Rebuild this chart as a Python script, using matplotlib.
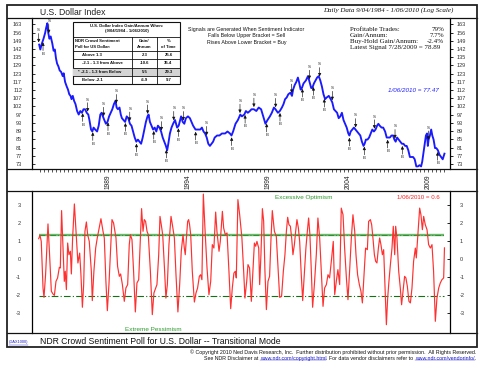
import numpy as np
import matplotlib
matplotlib.use('Agg')
import matplotlib.pyplot as plt
from matplotlib.lines import Line2D
from matplotlib.patches import Rectangle
from matplotlib.ticker import FixedLocator, FixedFormatter, NullLocator

# ---------------- data ----------------
usd_points = [
    (1984.68, 145), (1984.75, 141), (1984.85, 146), (1984.95, 150), (1985.05, 155),
    (1985.12, 160), (1985.19, 164), (1985.25, 155), (1985.32, 150), (1985.40, 152),
    (1985.50, 146), (1985.58, 140), (1985.66, 141), (1985.73, 134), (1985.80, 130),
    (1985.88, 128), (1985.96, 125), (1986.05, 124), (1986.15, 121), (1986.21, 123),
    (1986.30, 117), (1986.40, 114), (1986.48, 112), (1986.56, 109), (1986.64, 108),
    (1986.70, 106), (1986.78, 108), (1986.86, 105), (1986.95, 103), (1987.05, 99),
    (1987.15, 97), (1987.25, 99), (1987.35, 98), (1987.45, 100), (1987.55, 100),
    (1987.65, 98), (1987.75, 97), (1987.82, 94), (1987.92, 89), (1988.00, 88),
    (1988.08, 90), (1988.18, 89), (1988.30, 88), (1988.40, 91), (1988.50, 97),
    (1988.58, 98), (1988.66, 96), (1988.75, 94), (1988.85, 92), (1988.95, 93),
    (1989.05, 96), (1989.15, 98), (1989.25, 100), (1989.35, 103), (1989.45, 105),
    (1989.52, 101), (1989.60, 100), (1989.70, 101), (1989.78, 97), (1989.85, 95),
    (1989.95, 94), (1990.05, 93), (1990.15, 96), (1990.25, 95), (1990.35, 92),
    (1990.45, 91), (1990.55, 88), (1990.65, 85), (1990.75, 83), (1990.85, 84),
    (1990.95, 83), (1991.05, 82), (1991.15, 85), (1991.25, 89), (1991.35, 93),
    (1991.45, 96), (1991.52, 97), (1991.60, 93), (1991.70, 91), (1991.80, 89),
    (1991.90, 90), (1992.00, 88), (1992.10, 91), (1992.20, 90), (1992.30, 88),
    (1992.40, 85), (1992.50, 83), (1992.60, 81), (1992.68, 79), (1992.75, 82),
    (1992.85, 87), (1992.95, 90), (1993.05, 92), (1993.17, 94), (1993.30, 90),
    (1993.40, 91), (1993.55, 96), (1993.65, 93), (1993.75, 92), (1993.85, 95),
    (1993.98, 96), (1994.10, 95), (1994.20, 93), (1994.30, 91), (1994.45, 89),
    (1994.60, 89), (1994.75, 89), (1994.85, 90), (1994.95, 88), (1995.05, 87),
    (1995.15, 85), (1995.25, 82), (1995.35, 81), (1995.45, 82), (1995.55, 83),
    (1995.65, 85), (1995.80, 86), (1995.95, 86), (1996.10, 87), (1996.30, 87),
    (1996.45, 88), (1996.60, 87), (1996.70, 86), (1996.80, 88), (1996.95, 92),
    (1997.10, 94), (1997.25, 97), (1997.35, 96), (1997.50, 97), (1997.60, 99),
    (1997.72, 98), (1997.85, 99), (1997.95, 100), (1998.10, 100), (1998.25, 99),
    (1998.40, 101), (1998.55, 100), (1998.65, 97), (1998.75, 94), (1998.82, 92),
    (1998.95, 94), (1999.10, 96), (1999.22, 98), (1999.35, 101), (1999.45, 100),
    (1999.60, 98), (1999.72, 99), (1999.85, 101), (1999.95, 103), (2000.05, 106),
    (2000.15, 107), (2000.25, 109), (2000.38, 110), (2000.48, 108), (2000.55, 112),
    (2000.65, 115), (2000.75, 117), (2000.85, 120), (2000.92, 117), (2001.02, 112),
    (2001.10, 113), (2001.20, 116), (2001.35, 118), (2001.48, 121), (2001.58, 117),
    (2001.68, 113), (2001.75, 113), (2001.85, 116), (2001.95, 118), (2002.05, 120),
    (2002.15, 121), (2002.25, 118), (2002.35, 114), (2002.45, 109), (2002.55, 106),
    (2002.65, 107), (2002.78, 108), (2002.90, 106), (2003.00, 104), (2003.10, 100),
    (2003.20, 99), (2003.30, 98), (2003.40, 95), (2003.50, 96), (2003.60, 98),
    (2003.70, 94), (2003.80, 92), (2003.90, 90), (2004.00, 87), (2004.07, 86),
    (2004.15, 88), (2004.25, 89), (2004.35, 90), (2004.45, 89), (2004.55, 88),
    (2004.65, 87), (2004.75, 86), (2004.85, 83), (2004.95, 81), (2005.02, 82),
    (2005.10, 84), (2005.20, 84), (2005.30, 85), (2005.40, 87), (2005.50, 89),
    (2005.60, 88), (2005.70, 89), (2005.80, 91), (2005.88, 92), (2005.96, 91),
    (2006.08, 90), (2006.18, 90), (2006.30, 88), (2006.40, 85), (2006.50, 85),
    (2006.60, 85), (2006.70, 86), (2006.80, 86), (2006.88, 84), (2006.96, 83),
    (2007.05, 85), (2007.15, 84), (2007.25, 83), (2007.35, 82), (2007.45, 82),
    (2007.55, 81), (2007.65, 81), (2007.75, 79), (2007.85, 76), (2007.95, 76),
    (2008.05, 76), (2008.15, 75), (2008.25, 72), (2008.35, 72), (2008.45, 72.5),
    (2008.55, 72), (2008.62, 74), (2008.70, 78), (2008.78, 82), (2008.85, 86),
    (2008.92, 87), (2008.97, 81), (2009.02, 84), (2009.10, 86), (2009.18, 89),
    (2009.25, 86), (2009.33, 84), (2009.42, 80), (2009.50, 80), (2009.60, 79),
    (2009.70, 77), (2009.80, 76), (2009.90, 75), (2010.01, 77.47),
]

sentiment_points = [
    (1984.65, 1.11), (1984.73, 1.30), (1984.81, 0.96), (1984.92, -1.63), (1984.98, -2.15),
    (1985.08, -0.89), (1985.23, 1.93), (1985.33, 0.22), (1985.44, -1.81), (1985.54, -1.96),
    (1985.63, -2.04), (1985.73, -1.26), (1985.83, -1.07), (1985.94, -0.48), (1986.00, -0.52),
    (1986.08, 2.67), (1986.17, 0.59), (1986.25, -1.26), (1986.31, -0.70), (1986.38, -1.72),
    (1986.46, 0.87), (1986.54, 0.22), (1986.63, 0.41), (1986.69, -0.85), (1986.77, 1.15),
    (1986.88, 3.04), (1986.98, 1.52), (1987.10, -0.24), (1987.21, 0.31), (1987.29, -0.89),
    (1987.38, -2.70), (1987.46, -1.44), (1987.54, 1.52), (1987.63, 2.04), (1987.71, 1.33),
    (1987.81, 0.96), (1987.94, -0.70), (1988.00, -2.33), (1988.10, -0.70), (1988.21, 0.59),
    (1988.31, 1.15), (1988.44, 1.74), (1988.54, 2.22), (1988.67, 1.52), (1988.75, 1.15),
    (1988.85, -1.26), (1988.94, -2.89), (1989.04, -1.44), (1989.15, 0.59), (1989.23, 2.17),
    (1989.33, 1.98), (1989.48, 1.15), (1989.58, -0.43), (1989.69, -0.98), (1989.77, -0.85),
    (1989.88, -1.44), (1990.00, -2.37), (1990.10, -1.63), (1990.21, -1.44), (1990.31, 0.78),
    (1990.38, 1.33), (1990.48, 1.06), (1990.58, -0.70), (1990.69, -2.96), (1990.79, -1.35),
    (1990.90, -1.17), (1991.00, 0.96), (1991.08, 2.78), (1991.17, 1.52), (1991.25, 2.17),
    (1991.33, 2.07), (1991.42, 1.52), (1991.50, 1.33), (1991.63, -0.70), (1991.75, -3.11),
    (1991.85, -1.91), (1991.96, -1.63), (1992.04, -1.44), (1992.15, 0.22), (1992.23, 2.35),
    (1992.31, 1.89), (1992.40, 1.33), (1992.52, -0.70), (1992.60, -2.19), (1992.69, -1.44),
    (1992.79, 0.78), (1992.92, 2.35), (1993.02, 1.80), (1993.13, 1.15), (1993.23, -0.89),
    (1993.35, -2.96), (1993.46, -1.44), (1993.56, 0.41), (1993.67, 1.33), (1993.75, 0.59),
    (1993.81, 0.22), (1993.88, 1.15), (1993.96, 2.07), (1994.02, 2.17), (1994.08, 1.89),
    (1994.15, 1.33), (1994.25, -0.70), (1994.38, -2.41), (1994.48, -1.91), (1994.58, -1.63),
    (1994.69, -0.98), (1994.77, -0.89), (1994.85, -1.17), (1994.94, 3.59), (1995.04, 1.70),
    (1995.17, -0.52), (1995.29, -2.00), (1995.40, -1.26), (1995.50, 0.78), (1995.60, 0.59),
    (1995.71, 2.59), (1995.79, 1.52), (1995.92, 0.41), (1996.00, 0.96), (1996.13, 2.63),
    (1996.21, 1.70), (1996.31, 1.33), (1996.42, 1.43), (1996.54, -0.70), (1996.65, -2.78),
    (1996.75, -1.63), (1996.85, -0.80), (1996.94, -0.70), (1997.00, -1.07), (1997.10, 3.28),
    (1997.21, 2.44), (1997.35, 1.15), (1997.46, -0.70), (1997.54, -2.19), (1997.65, -1.26),
    (1997.73, -0.33), (1997.83, -0.52), (1997.94, -2.37), (1998.04, -0.70), (1998.13, 0.87),
    (1998.21, 0.69), (1998.29, 0.96), (1998.40, 0.59), (1998.46, -1.44), (1998.54, 0.22),
    (1998.63, 2.78), (1998.71, 2.07), (1998.79, -0.70), (1998.88, -2.83), (1998.98, -1.26),
    (1999.08, -0.98), (1999.17, 1.15), (1999.25, 2.67), (1999.38, 1.52), (1999.50, 1.24),
    (1999.60, -0.33), (1999.71, -2.15), (1999.83, -2.09), (1999.94, -0.70), (2000.04, 0.22),
    (2000.13, 1.52), (2000.21, 2.30), (2000.29, 1.89), (2000.38, 1.80), (2000.46, 1.15),
    (2000.54, 0.22), (2000.63, 0.78), (2000.71, 1.52), (2000.79, 2.17), (2000.88, 1.70),
    (2000.96, 0.96), (2001.06, -0.89), (2001.15, -2.33), (2001.25, -0.89), (2001.35, 0.59),
    (2001.44, 1.52), (2001.52, 2.26), (2001.60, 1.33), (2001.69, -0.70), (2001.77, -2.70),
    (2001.88, -1.44), (2002.00, 0.22), (2002.10, 2.26), (2002.21, 1.15), (2002.31, -0.70),
    (2002.42, -2.65), (2002.52, -1.63), (2002.63, -1.44), (2002.73, -0.89), (2002.83, -1.07),
    (2002.96, 0.04), (2003.06, 0.96), (2003.15, -2.00), (2003.25, -1.26), (2003.35, -0.61),
    (2003.46, -1.44), (2003.56, 2.81), (2003.67, 2.44), (2003.77, 0.59), (2003.88, -1.07),
    (2003.98, -2.28), (2004.08, -0.70), (2004.19, 1.15), (2004.29, 2.44), (2004.40, 1.52),
    (2004.48, 0.22), (2004.58, -0.89), (2004.69, -1.44), (2004.79, -1.81), (2004.88, -2.46),
    (2004.98, -0.89), (2005.08, 0.59), (2005.19, 0.50), (2005.27, 2.07), (2005.38, 2.17),
    (2005.46, 1.89), (2005.54, 1.15), (2005.63, 0.22), (2005.71, -0.15), (2005.79, -0.24),
    (2005.88, 0.59), (2005.96, 1.15), (2006.04, 0.78), (2006.13, 0.22), (2006.21, 0.50),
    (2006.29, -1.44), (2006.38, -3.67), (2006.46, -2.19), (2006.54, -1.26), (2006.63, -0.33),
    (2006.73, 0.59), (2006.81, 1.80), (2006.90, 0.22), (2006.96, 1.80), (2007.04, 1.15),
    (2007.15, -0.70), (2007.25, -1.63), (2007.33, -2.56), (2007.44, -1.63), (2007.52, -0.98),
    (2007.60, -1.07), (2007.69, -1.54), (2007.79, -2.37), (2007.88, -2.46), (2007.98, -1.63),
    (2008.08, -0.15), (2008.19, 0.59), (2008.25, 0.04), (2008.35, 1.33), (2008.46, 2.81),
    (2008.54, 2.44), (2008.63, 1.61), (2008.71, 2.35), (2008.81, 1.89), (2008.92, 1.61),
    (2009.02, 0.78), (2009.13, 0.59), (2009.23, 0.78), (2009.33, -0.70), (2009.44, -3.48),
    (2009.54, -2.19), (2009.65, -1.63), (2009.75, -1.35), (2009.85, -1.17), (2009.96, -1.07),
    (2010.01, 0.60),
]

sell_dates = [1984.65, 1985.28, 1987.71, 1988.71, 1989.50, 1990.34, 1991.46, 1992.32,
              1993.09, 1993.69, 1995.15, 1997.23, 1998.10, 1999.46, 2000.46, 2001.57,
              2002.21, 2003.00, 2004.46, 2005.63, 2006.92, 2009.00]
buy_dates = [1984.92, 1987.40, 1988.03, 1988.98, 1990.07, 1990.76, 1991.84, 1992.63,
             1993.38, 1994.46, 1996.71, 1997.55, 1998.90, 1999.73, 2001.13, 2001.82,
             2002.50, 2004.07, 2005.00, 2006.46, 2007.38, 2009.58]

price_tick_labels = [163, 156, 149, 142, 135, 129, 123, 117, 112, 107, 102, 97, 93, 89, 85, 81, 77, 73]
year_labels = [1989, 1994, 1999, 2004, 2009]
sentiment_ticks = [3, 2, 1, 0, -1, -2, -3]
upper_bracket = 1.3
lower_bracket = -2.1

table_title = ["U.S. Dollar Index Gain/Annum When:", "(9/04/1984 - 1/06/2010)"]
table_rows = ["Above 1.3", "-2.1 - 1.3 from Above", "* -2.1 - 1.3 from Below", "Below -2.1"]
table_gain = ["2.3", "-10.6", "5.5", "-6.9"]
table_time = ["25.6", "35.4", "29.3", "9.7"]
stats_labels = ["Profitable Trades:", "Gain/Annum:", "Buy-Hold Gain/Annum:"]
stats_values = ["79%", "7.7%", "-2.4%"]

usd_x = np.array([p[0] for p in usd_points])
usd_y = np.array([p[1] for p in usd_points])
sent_x = np.array([p[0] for p in sentiment_points])
sent_y = np.array([p[1] for p in sentiment_points])

# ---------------- layout helpers ----------------
W, H = 490, 368
SANS = ['Liberation Sans', 'DejaVu Sans']
SERIF = ['Liberation Serif', 'DejaVu Serif']
plt.rcParams['font.family'] = SANS

fig = plt.figure(figsize=(W / 100, H / 100), dpi=100)
fig.patch.set_facecolor('white')


def fx(x):
    return x / W


def fy(y):
    return 1 - y / H


def hline(y, x0=7, x1=477, lw=0.9, color='#111111', z=5):
    fig.add_artist(Line2D([fx(x0), fx(x1)], [fy(y), fy(y)], transform=fig.transFigure,
                          color=color, lw=lw, zorder=z))


def vline(x, y0, y1, lw=0.9, color='#111111', z=5):
    fig.add_artist(Line2D([fx(x), fx(x)], [fy(y0), fy(y1)], transform=fig.transFigure,
                          color=color, lw=lw, zorder=z))


XLIM = (1984.231, 2010.356)

# ---------------- top panel ----------------
ax1 = fig.add_axes([fx(32), fy(169), (450 - 32) / W, (169 - 18) / H])
ax1.plot(usd_x, usd_y, color='#1a1aff', lw=1.35, solid_joinstyle='round')
ax1.set_yscale('log')
ax1.set_xlim(*XLIM)
ax1.set_ylim(70.93, 169.0)
tick_pos = np.geomspace(price_tick_labels[0], price_tick_labels[-1], len(price_tick_labels))
ax1.yaxis.set_major_locator(FixedLocator(tick_pos))
ax1.yaxis.set_major_formatter(FixedFormatter([str(v) for v in price_tick_labels]))
ax1.yaxis.set_minor_locator(NullLocator())
ax1.tick_params(axis='y', direction='in', length=2.2, width=0.6, pad=7.2,
                labelsize=4.0, labelcolor='#333333', color='#111111')
ax1.xaxis.set_major_locator(FixedLocator(year_labels))
ax1.xaxis.set_major_formatter(FixedFormatter([str(y) for y in year_labels]))
ax1.xaxis.set_minor_locator(FixedLocator(np.arange(1984.75, 2010.01, 0.25)))
ax1.tick_params(axis='x', which='both', direction='out', length=2.2, width=0.5,
                color='#111111')
ax1.tick_params(axis='x', which='major', labelsize=4.8, labelrotation=90, pad=2.0,
                labelcolor='#222222')
for s in ('top', 'bottom'):
    ax1.spines[s].set_visible(False)
for s in ('left', 'right'):
    ax1.spines[s].set_linewidth(0.9)

ax1r = ax1.twinx()
ax1r.set_yscale('log')
ax1r.set_ylim(70.93, 169.0)
ax1r.yaxis.set_major_locator(FixedLocator(tick_pos))
ax1r.yaxis.set_major_formatter(FixedFormatter([str(v) for v in price_tick_labels]))
ax1r.yaxis.set_minor_locator(NullLocator())
ax1r.tick_params(axis='y', direction='out', length=2.5, width=0.6, pad=2.5,
                 labelsize=4.0, labelcolor='#333333')
for s in ax1r.spines.values():
    s.set_visible(False)

# signals
arrow_style = dict(arrowstyle='-|>,head_length=0.45,head_width=0.22', lw=0.45,
                   color='#111111', shrinkA=0, shrinkB=1.6, mutation_scale=4)
for d in sell_dates:
    p = np.interp(d, usd_x, usd_y)
    ax1.annotate('', xy=(d, p), xytext=(0, 8.0), textcoords='offset points',
                 arrowprops=arrow_style)
    ax1.annotate('S', xy=(d, p), xytext=(0, 10.3), textcoords='offset points',
                 ha='center', va='center', fontsize=3.2, color='#222222')
for d in buy_dates:
    p = np.interp(d, usd_x, usd_y)
    ax1.annotate('', xy=(d, p), xytext=(0, -7.5), textcoords='offset points',
                 arrowprops=arrow_style)
    ax1.annotate('B', xy=(d, p), xytext=(0, -9.8), textcoords='offset points',
                 ha='center', va='center', fontsize=3.2, color='#222222')

# ---------------- bottom panel ----------------
ax2 = fig.add_axes([fx(32), fy(333), (450 - 32) / W, (333 - 191) / H])
ax2.set_xlim(*XLIM)
ax2.set_ylim(-4.13, 3.76)
ax2.hlines(upper_bracket, sent_x[0], sent_x[-1], color='#6db86d', lw=1.7, zorder=2)
ax2.hlines(upper_bracket, sent_x[0], sent_x[-1], color='#2f8f2f', lw=0.7,
           linestyles=[(0, (6, 2, 1, 2))], zorder=2)
ax2.hlines(lower_bracket, sent_x[0], sent_x[-1], color='#157015', lw=0.8,
           linestyles=[(0, (6, 2, 1, 2))], zorder=2)
ax2.plot(sent_x, sent_y, color='#ff3030', lw=0.85, zorder=3, solid_joinstyle='round')
ax2.set_xticks([])
ax2.set_yticks(sentiment_ticks)
ax2.set_yticklabels([str(v) for v in sentiment_ticks])
ax2.tick_params(axis='y', length=0, pad=8.0, labelsize=4.0, labelcolor='#333333')
for s in ('top', 'bottom'):
    ax2.spines[s].set_visible(False)
for s in ('left', 'right'):
    ax2.spines[s].set_linewidth(0.9)
ax2r = ax2.twinx()
ax2r.set_ylim(-4.13, 3.76)
ax2r.set_yticks(sentiment_ticks)
ax2r.set_yticklabels([str(v) for v in sentiment_ticks])
ax2r.tick_params(axis='y', direction='in', length=2.2, width=0.6, pad=7.2,
                 labelsize=4.0, labelcolor='#333333')
for s in ax2r.spines.values():
    s.set_visible(False)

# ---------------- frame ----------------
fig.add_artist(Rectangle((fx(7), fy(347)), (477 - 7) / W, (347 - 5) / H, fill=False,
                         transform=fig.transFigure, lw=1.3, edgecolor='#222222', zorder=6))
for y in (18, 169, 191, 333):
    hline(y)

# ---------------- texts ----------------
fig.text(fx(40), fy(12.3), 'U.S. Dollar Index', fontsize=6.2, color='#222222',
         ha='left', va='center')
fig.text(fx(453), fy(10.3), 'Daily Data 9/04/1984 - 1/06/2010 (Log Scale)', fontsize=5.0,
         family=SERIF, style='italic', ha='right', va='center', color='#111111')

for i, line in enumerate(['Signals are Generated When Sentiment Indicator',
                          'Falls Below Upper Bracket = Sell',
                          'Rises Above Lower Bracket = Buy']):
    fig.text(fx(246.5), fy(29.3 + 6.7 * i), line, fontsize=3.75, ha='center', va='center',
             color='#111111')

for i, (lab, val) in enumerate(zip(stats_labels, stats_values)):
    yy = fy(29.3 + 6.2 * i)
    fig.text(fx(350), yy, lab, fontsize=5.0, family=SERIF, ha='left', va='center', color='#111111')
    fig.text(fx(444), yy, val, fontsize=5.0, family=SERIF, ha='right', va='center', color='#111111')
fig.text(fx(350), fy(29.3 + 6.2 * 3), 'Latest Signal 7/28/2009 = 78.89', fontsize=5.0,
         family=SERIF, ha='left', va='center', color='#111111')

fig.text(fx(413.5), fy(91), '1/06/2010 = 77.47', fontsize=4.5, style='italic',
         color='#2020ff', ha='center', va='center')
fig.text(fx(304), fy(198), 'Excessive Optimism', fontsize=4.6, color='#2e9a2e',
         ha='center', va='center')
fig.text(fx(418.5), fy(198), '1/06/2010 = 0.6', fontsize=4.4, color='#ff2020',
         ha='center', va='center')
fig.text(fx(153.5), fy(329.5), 'Extreme Pessimism', fontsize=4.6, color='#2e9a2e',
         ha='center', va='center')

# table
TL, TR, TT, TB = 73, 180, 21.5, 84.2
C1, C2 = 132, 157
row_edges = [51.0, 59.3, 67.6, 75.9, 84.2]
fig.add_artist(Rectangle((fx(TL), fy(TB)), (TR - TL) / W, (TB - TT) / H, transform=fig.transFigure,
                         facecolor='white', edgecolor='#111111', lw=0.8, zorder=7))
fig.add_artist(Rectangle((fx(TL), fy(row_edges[3])), (TR - TL) / W,
                         (row_edges[3] - row_edges[2]) / H, transform=fig.transFigure,
                         facecolor='#d4d4d4', edgecolor='none', zorder=7))
for y in [36.5] + row_edges[:-1]:
    hline(y, TL, TR, lw=0.6, z=8)
for x in (C1, C2):
    vline(x, 36.5, TB, lw=0.6, z=8)
tkw = dict(fontsize=3.1, color='#111111', va='center', zorder=9, fontweight='bold')
fig.text(fx((TL + TR) / 2), fy(26.0), table_title[0], ha='center', **tkw)
fig.text(fx((TL + TR) / 2), fy(31.3), table_title[1], ha='center', **tkw)
fig.text(fx(75), fy(41.0), 'NDR Crowd Sentiment', ha='left', **tkw)
fig.text(fx(75), fy(46.5), 'Poll for US Dollar:', ha='left', **tkw)
fig.text(fx((C1 + C2) / 2), fy(41.0), 'Gain/', ha='center', **tkw)
fig.text(fx((C1 + C2) / 2), fy(46.5), 'Annum', ha='center', **tkw)
fig.text(fx((C2 + TR) / 2), fy(41.0), '%', ha='center', **tkw)
fig.text(fx((C2 + TR) / 2), fy(46.5), 'of Time', ha='center', **tkw)
for i, (lab, g, t) in enumerate(zip(table_rows, table_gain, table_time)):
    yc = fy((row_edges[i] + row_edges[i + 1]) / 2)
    fig.text(fx(77.5 if lab.startswith('*') else 82), yc, lab, ha='left', **tkw)
    fig.text(fx((C1 + C2) / 2), yc, g, ha='center', **tkw)
    fig.text(fx((C2 + TR) / 2), yc, t, ha='center', **tkw)

# footer
fig.text(fx(40), fy(341.5), 'NDR Crowd Sentiment Poll for U.S. Dollar -- Transitional Mode',
         fontsize=6.25, color='#111111', ha='left', va='center')
ftag = fig.text(fx(8.5), fy(342.5), '(DAX1000)', fontsize=2.9, color='#2020cc',
                ha='left', va='center')

renderer = fig.canvas.get_renderer()
bb = ftag.get_window_extent(renderer)
fig.add_artist(Line2D([bb.x0 / fig.bbox.width, bb.x1 / fig.bbox.width],
                      [bb.y0 / fig.bbox.height] * 2, transform=fig.transFigure,
                      color='#2020cc', lw=0.3))

fig.text(fx(476), fy(352.3),
         '\u00a9 Copyright 2010 Ned Davis Research, Inc.  Further distribution prohibited '
         'without prior permission.  All Rights Reserved.',
         fontsize=3.8, color='#111111', ha='right', va='center')

parts = [('See NDR Disclaimer at ', '#111111', False), ('www.ndr.com/copyright.html', '#1a1acc', True),
         ('. For data vendor disclaimers refer to ', '#111111', False),
         ('www.ndr.com/vendorinfo/', '#1a1acc', True), ('.', '#111111', False)]
xcur = fx(476)
for s, c, ul in reversed(parts):
    t = fig.text(xcur, fy(358.3), s, fontsize=3.8, color=c, ha='right', va='center')
    b = t.get_window_extent(renderer)
    if ul:
        fig.add_artist(Line2D([b.x0 / fig.bbox.width, b.x1 / fig.bbox.width],
                              [b.y0 / fig.bbox.height + 0.001] * 2,
                              transform=fig.transFigure, color=c, lw=0.3))
    xcur -= b.width / fig.bbox.width

fig.savefig('out.png', dpi=100, facecolor='white')
